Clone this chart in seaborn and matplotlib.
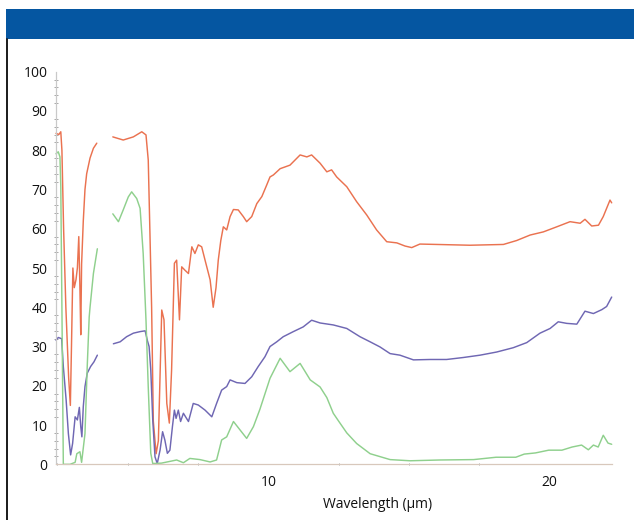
import pandas as pd
import seaborn as sns
import matplotlib.pyplot as plt
from matplotlib.patches import Rectangle
from matplotlib.lines import Line2D
from matplotlib.ticker import MultipleLocator

# transmission curves (wavelength in um, value in %)
orange_x1 = [2.45, 2.55, 2.62, 2.66, 2.72, 2.80, 2.90, 2.96, 3.00, 3.05, 3.10, 3.16,
             3.21, 3.26, 3.30, 3.33, 3.36, 3.42, 3.48, 3.54, 3.66, 3.78, 3.90]
orange_y1 = [84.3, 84.0, 84.7, 80.0, 60.0, 40.0, 22.0, 15.0, 30.0, 50.0, 45.0, 47.0,
             50.0, 58.0, 45.0, 33.0, 51.0, 62.0, 70.0, 74.0, 78.0, 80.5, 81.8]
orange_x2 = [4.47, 4.84, 5.20, 5.50, 5.65, 5.73, 5.79, 5.85, 5.91, 6.01,
             6.09, 6.21, 6.29, 6.39, 6.48, 6.56, 6.66, 6.74, 6.84, 6.92,
             7.04, 7.16, 7.28, 7.39, 7.51, 7.63, 7.75, 7.93, 8.04, 8.14,
             8.22, 8.31, 8.40, 8.52, 8.64, 8.76, 8.93, 9.11, 9.23, 9.41,
             9.59, 9.77, 9.94, 10.06, 10.18, 10.42, 10.77, 11.13, 11.37, 11.54,
             11.84, 12.08, 12.25, 12.43, 12.79, 13.14, 13.50, 13.85, 14.21, 14.57,
             14.86, 15.10, 15.39, 15.99, 17.17, 18.36, 18.83, 19.31, 19.78, 20.26,
             20.73, 21.09, 21.26, 21.50, 21.74, 21.91, 22.15, 22.21]
orange_y2 = [83.4, 82.6, 83.4, 84.7, 83.9, 77.5, 58.9, 40.0, 11.0, 2.7,
             6.0, 39.3, 36.8, 15.5, 10.5, 24.0, 51.2, 52.0, 36.8, 50.3,
             49.4, 48.6, 55.4, 53.7, 55.9, 55.4, 52.0, 47.0, 40.0, 45.0,
             52.0, 57.0, 60.5, 59.7, 63.1, 64.9, 64.8, 63.1, 61.8, 63.1,
             66.4, 68.2, 71.1, 73.2, 73.7, 75.3, 76.2, 78.8, 78.3, 78.8,
             76.7, 74.5, 75.0, 73.2, 70.7, 66.9, 63.5, 59.7, 56.7, 56.4,
             55.6, 55.2, 56.1, 56.0, 55.8, 56.0, 57.0, 58.4, 59.2, 60.5,
             61.8, 61.4, 62.4, 60.7, 60.9, 63.1, 67.3, 66.6]

blue_x1 = [2.45, 2.53, 2.65, 2.71, 2.81, 2.89, 2.97, 3.04, 3.13, 3.21,
           3.28, 3.33, 3.37, 3.42, 3.48, 3.56, 3.68, 3.80, 3.92]
blue_y1 = [31.6, 32.3, 32.0, 24.9, 16.4, 7.8, 2.4, 5.3, 12.1, 11.3,
           14.5, 9.6, 7.0, 14.7, 19.8, 23.2, 24.9, 26.1, 27.8]
blue_x2 = [4.49, 4.73, 4.96, 5.20, 5.44, 5.62, 5.70, 5.76, 5.82, 5.89,
           5.97, 6.05, 6.15, 6.24, 6.32, 6.41, 6.50, 6.59, 6.66, 6.72,
           6.80, 6.88, 6.98, 7.16, 7.33, 7.51, 7.75, 7.99, 8.16, 8.34,
           8.52, 8.64, 8.88, 9.17, 9.41, 9.64, 9.88, 10.06, 10.30, 10.53,
           10.89, 11.24, 11.54, 11.84, 12.31, 12.79, 13.26, 13.62, 13.97, 14.33,
           14.68, 15.16, 15.75, 16.34, 16.93, 17.53, 18.12, 18.71, 19.19, 19.66,
           20.02, 20.31, 20.61, 20.97, 21.26, 21.56, 21.86, 22.03, 22.21]
blue_y2 = [30.7, 31.2, 32.5, 33.4, 33.8, 34.0, 31.5, 30.0, 24.0, 11.3,
           1.9, 0.2, 3.6, 8.3, 6.2, 2.8, 3.6, 9.6, 13.8, 11.7,
           13.8, 10.9, 13.0, 10.9, 15.5, 15.1, 13.8, 12.1, 15.5, 18.9,
           19.8, 21.5, 20.8, 20.6, 22.3, 24.9, 27.4, 30.0, 31.2, 32.5,
           33.8, 35.0, 36.7, 36.0, 35.5, 34.6, 32.5, 31.2, 29.9, 28.2,
           27.8, 26.6, 26.7, 26.7, 27.2, 27.8, 28.6, 29.7, 31.0, 33.4,
           34.6, 36.3, 35.9, 35.7, 39.0, 38.4, 39.4, 40.2, 42.6]

green_x1 = [2.45, 2.53, 2.59, 2.62, 2.66, 2.71, 2.95, 3.13, 3.19, 3.30,
            3.36, 3.48, 3.56, 3.63, 3.66, 3.78, 3.92]
green_y1 = [79.1, 79.6, 78.3, 70.7, 40.0, 0.0, 0.0, 0.5, 2.7, 3.2,
            0.5, 7.8, 24.9, 37.5, 40.0, 48.6, 54.9]
green_x2 = [4.47, 4.67, 4.84, 5.02, 5.14, 5.32, 5.44, 5.55, 5.65, 5.73,
            5.82, 5.89, 6.20, 6.74, 6.98, 7.21, 7.57, 7.93, 8.16, 8.34,
            8.52, 8.76, 9.00, 9.23, 9.47, 9.70, 10.06, 10.42, 10.77, 11.13,
            11.49, 11.84, 12.08, 12.31, 12.50, 12.79, 13.14, 13.62, 14.33, 15.04,
            16.10, 17.30, 18.10, 18.80, 19.10, 19.50, 19.97, 20.44, 20.80, 21.14,
            21.38, 21.56, 21.73, 21.91, 22.08, 22.21]
green_y2 = [63.8, 61.8, 64.8, 68.1, 69.4, 67.7, 65.2, 53.7, 36.7, 19.7,
            2.8, 0.2, 0.3, 1.1, 0.4, 1.5, 1.2, 0.6, 1.1, 6.2,
            7.0, 10.9, 8.7, 6.6, 9.6, 14.0, 21.9, 27.0, 23.6, 25.7,
            21.5, 19.7, 17.0, 13.0, 11.0, 8.0, 5.3, 2.7, 1.2, 0.9,
            1.1, 1.2, 1.8, 1.8, 2.6, 2.9, 3.6, 3.6, 4.4, 4.9,
            3.7, 4.9, 4.4, 7.4, 5.4, 5.1]

# long table: one row per point, segment id so the gaps stay open
parts = [("orange", 1, orange_x1, orange_y1), ("orange", 2, orange_x2, orange_y2),
         ("blue", 1, blue_x1, blue_y1), ("blue", 2, blue_x2, blue_y2),
         ("green", 1, green_x1, green_y1), ("green", 2, green_x2, green_y2)]
frames = []
for name, seg, xs, ys in parts:
    frames.append(pd.DataFrame({"wavelength": xs, "value": ys,
                                "series": name, "segment": f"{name}{seg}"}))
df = pd.concat(frames, ignore_index=True)

palette = {"orange": "#EA7250", "blue": "#6F67B3", "green": "#8FD08D"}

sns.set_style("white")
plt.rcParams['font.family'] = ['Open Sans', 'DejaVu Sans']

fig = plt.figure(figsize=(6.34, 5.2), dpi=100)
ax = fig.add_axes([0.0879, 0.1071, 0.8769, 0.755])

sns.lineplot(data=df, x="wavelength", y="value", hue="series", units="segment",
             estimator=None, sort=False, palette=palette, linewidth=1.05,
             legend=False, ax=ax)
for ln in ax.lines:
    ln.set_clip_on(False)

ax.set_xlim(2.44, 22.21)
ax.set_ylim(0, 100)
ax.set_xticks([10, 20])
ax.xaxis.set_minor_locator(MultipleLocator(2.5))
ax.set_yticks(range(0, 101, 10))
ax.yaxis.set_minor_locator(MultipleLocator(2))

ax.tick_params(axis="both", which="major", labelsize=10, colors="#888888",
               labelcolor="#111111", width=0.8)
ax.tick_params(axis="y", which="major", direction="out", length=3, pad=3)
ax.tick_params(axis="y", which="minor", direction="inout", length=2.5,
               color="#999999", width=0.6, left=True)
ax.tick_params(axis="x", which="major", direction="inout", length=3, pad=6)
ax.tick_params(axis="x", which="minor", direction="inout", length=2,
               color="#999999", width=0.6, bottom=True)

for side in ["top", "right"]:
    ax.spines[side].set_visible(False)
ax.spines["left"].set_color("#c9c9c9")
ax.spines["bottom"].set_color("#d8c8bc")
ax.spines["left"].set_linewidth(0.9)
ax.spines["bottom"].set_linewidth(0.9)

ax.set_ylabel("")
ax.set_xlabel("Wavelength (\u03bcm)", fontsize=10, color="#111111")
ax.xaxis.set_label_coords(0.578, -0.083)

# blue header band and left frame line
fig.patches.append(Rectangle((6 / 634, 1 - 39 / 520), 1 - 6 / 634, 30 / 520,
                             transform=fig.transFigure, facecolor="#0556A1",
                             edgecolor="none", zorder=0))
fig.lines.append(Line2D([6.8 / 634, 6.8 / 634], [0, 1 - 39 / 520],
                        transform=fig.transFigure, color="#1a1a1a", linewidth=1.4))

fig.savefig("out.png", dpi=100)
